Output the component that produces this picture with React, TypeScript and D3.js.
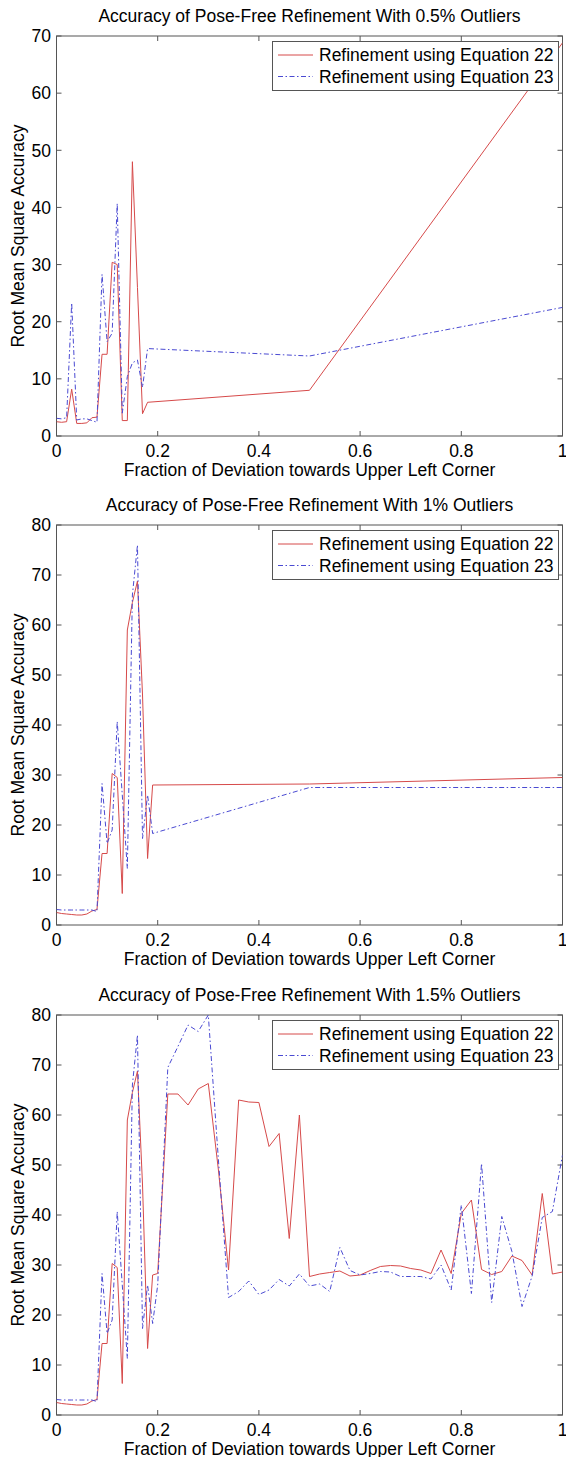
import React from "react";
import * as d3 from "d3";

// Sample positions (fraction of deviation towards the upper-left corner)
const xCoarse05 = [0, 0.01, 0.02, 0.03, 0.04, 0.05, 0.06, 0.07, 0.08, 0.09, 0.1, 0.11, 0.12, 0.13, 0.14, 0.15, 0.16, 0.17, 0.18, 0.5, 1];
const xCoarse1 = [0, 0.01, 0.02, 0.03, 0.04, 0.05, 0.06, 0.07, 0.08, 0.09, 0.1, 0.11, 0.12, 0.13, 0.14, 0.15, 0.16, 0.17, 0.18, 0.19, 0.5, 1];
const xFine15 = [
  0, 0.01, 0.02, 0.03, 0.04, 0.05, 0.06, 0.07, 0.08, 0.09, 0.1, 0.11, 0.12, 0.13, 0.14, 0.15, 0.16, 0.17, 0.18, 0.19,
  0.2, 0.22, 0.24, 0.26, 0.28, 0.3, 0.32, 0.34, 0.36, 0.38, 0.4, 0.42, 0.44, 0.46, 0.48, 0.5, 0.52, 0.54, 0.56, 0.58,
  0.6, 0.62, 0.64, 0.66, 0.68, 0.7, 0.72, 0.74, 0.76, 0.78, 0.8, 0.82, 0.84, 0.86, 0.88, 0.9, 0.92, 0.94, 0.96, 0.98, 1,
];

// 0.5% outliers
const eq22Outliers05 = [2.5, 2.4, 2.5, 8.2, 2.2, 2.2, 2.3, 3.2, 3.3, 14.3, 14.3, 30.4, 30.0, 2.7, 2.7, 48.0, 26.0, 3.9, 5.9, 8.0, 68.8];
const eq23Outliers05 = [3.1, 3.0, 3.2, 23.3, 2.8, 3.0, 3.0, 2.7, 2.4, 28.3, 16.5, 18.0, 40.7, 4.0, 10.4, 12.8, 13.3, 8.5, 15.3, 14.0, 22.5];

// 1% outliers
const eq22Outliers1 = [2.5, 2.3, 2.2, 2.1, 2.0, 2.0, 2.2, 2.8, 3.1, 14.3, 14.3, 30.3, 29.5, 6.3, 59.0, 64.5, 68.8, 46.0, 13.3, 28.0, 28.2, 29.5];
const eq23Outliers1 = [3.1, 3.0, 3.0, 3.0, 3.0, 3.0, 3.0, 3.0, 2.7, 28.3, 16.3, 19.0, 40.7, 26.0, 11.3, 66.0, 76.0, 17.3, 26.0, 18.3, 27.5, 27.5];

// 1.5% outliers
const eq22Outliers15 = [
  2.5, 2.3, 2.2, 2.1, 2.0, 2.0, 2.2, 2.8, 3.1, 14.3, 14.3, 30.3, 29.5, 6.3, 59.0, 64.5, 68.8, 46.0, 13.3, 28.0,
  28.3, 64.2, 64.2, 62.0, 65.2, 66.3, 49.0, 29.0, 63.0, 62.6, 62.5, 53.7, 56.3, 35.3, 60.0, 27.7, 28.2, 28.5, 28.8, 27.8,
  28.0, 28.9, 29.7, 29.9, 29.8, 29.3, 29.0, 28.3, 33.0, 28.3, 40.3, 43.0, 29.1, 28.1, 28.7, 31.8, 30.9, 28.0, 44.3, 28.2, 28.6,
];
const eq23Outliers15 = [
  3.1, 3.0, 3.0, 3.0, 3.0, 3.0, 3.0, 3.0, 2.7, 28.3, 16.3, 19.0, 40.7, 26.0, 11.3, 66.0, 76.0, 17.3, 26.0, 18.3,
  26.0, 69.5, 73.7, 78.0, 76.7, 80.0, 51.0, 23.5, 24.7, 26.8, 24.1, 25.0, 27.1, 25.8, 28.2, 25.8, 26.2, 24.7, 33.5, 28.9,
  28.0, 28.3, 28.7, 28.6, 27.7, 27.7, 27.7, 27.2, 30.0, 25.0, 42.0, 24.3, 50.3, 22.5, 39.7, 32.7, 21.7, 27.8, 39.5, 40.7, 52.0,
];

const titles = [
  "Accuracy of Pose-Free Refinement With 0.5% Outliers",
  "Accuracy of Pose-Free Refinement With 1% Outliers",
  "Accuracy of Pose-Free Refinement With 1.5% Outliers",
];
const yMaxes = [70, 80, 80];
const xTickValues = [0, 0.2, 0.4, 0.6, 0.8, 1];
const xTickLabels = ["0", "0.2", "0.4", "0.6", "0.8", "1"];
const legendLabels = ["Refinement using Equation 22", "Refinement using Equation 23"];
const xAxisLabel = "Fraction of Deviation towards Upper Left Corner";
const yAxisLabel = "Root Mean Square Accuracy";

const FONT = "'Liberation Sans', Arial, Helvetica, sans-serif";
const FS = 17.5;
const RED = "#d64a4a";
const BLUE = "#4a4ad2";
const AXIS = "#555";
const DASH_DOT = "5,2.5,1.5,2.5";

type PanelProps = {
  top: number;
  bottom: number;
  idx: number;
  xs: number[];
  red: number[];
  blue: number[];
};

function Panel({ top, bottom, idx, xs, red, blue }: PanelProps) {
  const left = 56.5;
  const right = 562.5;
  const x = d3.scaleLinear().domain([0, 1]).range([left, right]);
  const y = d3.scaleLinear().domain([0, yMaxes[idx]]).range([bottom, top]);
  const yTicks = d3.range(0, yMaxes[idx] + 1, 10);
  const line = d3
    .line<number>()
    .x((_, i) => x(xs[i]))
    .y((v) => y(v));
  const tick = 5;
  const clipId = `clip-${idx}`;
  const legTop = top + 5.5;
  const legLeft = 272.5;
  const legRight = 558.5;
  const legH = 49;
  const row1 = legTop + 13.5;
  const row2 = legTop + 35;

  return (
    <g>
      <defs>
        <clipPath id={clipId}>
          <rect x={left} y={top} width={right - left} height={bottom - top} />
        </clipPath>
      </defs>
      <text x={(left + right) / 2} y={top - 14.5} textAnchor="middle" fontSize={FS} fontFamily={FONT} fill="#000">
        {titles[idx]}
      </text>
      <rect x={left} y={top} width={right - left} height={bottom - top} fill="#fff" stroke={AXIS} strokeWidth={1} />
      {xTickValues.map((t, i) => (
        <g key={`xt${i}`}>
          <line x1={x(t)} x2={x(t)} y1={bottom} y2={bottom - tick} stroke={AXIS} />
          <line x1={x(t)} x2={x(t)} y1={top} y2={top + tick} stroke={AXIS} />
          <text x={x(t)} y={bottom + 21} textAnchor="middle" fontSize={FS} fontFamily={FONT} fill="#000">
            {xTickLabels[i]}
          </text>
        </g>
      ))}
      {yTicks.map((t) => (
        <g key={`yt${t}`}>
          <line x1={left} x2={left + tick} y1={y(t)} y2={y(t)} stroke={AXIS} />
          <line x1={right} x2={right - tick} y1={y(t)} y2={y(t)} stroke={AXIS} />
          <text x={51} y={y(t)} dy="0.36em" textAnchor="end" fontSize={FS} fontFamily={FONT} fill="#000">
            {t}
          </text>
        </g>
      ))}
      <g clipPath={`url(#${clipId})`}>
        <path d={line(red) || ""} fill="none" stroke={RED} strokeWidth={1} />
        <path d={line(blue) || ""} fill="none" stroke={BLUE} strokeWidth={1} strokeDasharray={DASH_DOT} />
      </g>
      <text x={(left + right) / 2} y={bottom + 39.5} textAnchor="middle" fontSize={FS} fontFamily={FONT} fill="#000">
        {xAxisLabel}
      </text>
      <text
        transform={`translate(24,${(top + bottom) / 2}) rotate(-90)`}
        textAnchor="middle"
        fontSize={FS}
        fontFamily={FONT}
        fill="#000"
      >
        {yAxisLabel}
      </text>
      <rect x={legLeft} y={legTop} width={legRight - legLeft} height={legH} fill="#fff" stroke={AXIS} strokeWidth={1} />
      <line x1={278} x2={313} y1={row1} y2={row1} stroke={RED} strokeWidth={1} />
      <line x1={278} x2={313} y1={row2} y2={row2} stroke={BLUE} strokeWidth={1} strokeDasharray={DASH_DOT} />
      <text x={319} y={row1} dy="0.36em" fontSize={FS} fontFamily={FONT} fill="#000">
        {legendLabels[0]}
      </text>
      <text x={319} y={row2} dy="0.36em" fontSize={FS} fontFamily={FONT} fill="#000">
        {legendLabels[1]}
      </text>
    </g>
  );
}

export default function App() {
  return (
    <div style={{ position: "absolute", left: 0, top: 0 }}>
      <svg width={566} height={1457} style={{ display: "block", background: "#fff" }}>
        <rect x={0} y={0} width={566} height={1457} fill="#fff" />
        <Panel top={36} bottom={436} idx={0} xs={xCoarse05} red={eq22Outliers05} blue={eq23Outliers05} />
        <Panel top={525} bottom={925} idx={1} xs={xCoarse1} red={eq22Outliers1} blue={eq23Outliers1} />
        <Panel top={1015} bottom={1415} idx={2} xs={xFine15} red={eq22Outliers15} blue={eq23Outliers15} />
      </svg>
    </div>
  );
}
